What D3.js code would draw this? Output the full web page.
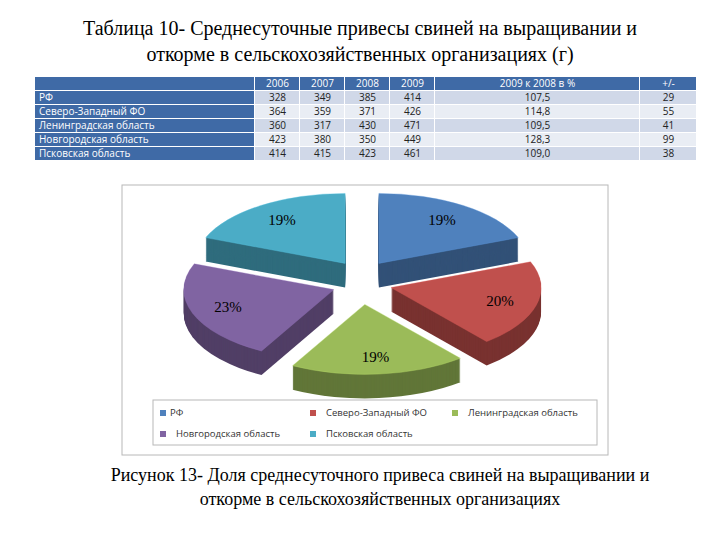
<!DOCTYPE html>
<html><head><meta charset="utf-8">
<script src="https://cdn.jsdelivr.net/npm/d3@7"></script>
<style>body{margin:0;background:#fff}</style>
</head><body>
<script>
var regions = ["РФ", "Северо-Западный ФО", "Ленинградская область", "Новгородская область", "Псковская область"];
var headers = ["2006", "2007", "2008", "2009", "2009 к 2008 в %", "+/-"];
var v2006 = [328, 364, 360, 423, 414];
var v2007 = [349, 359, 317, 380, 415];
var v2008 = [385, 371, 430, 350, 423];
var v2009 = [414, 426, 471, 449, 461];
var pct = ["107,5", "114,8", "109,5", "128,3", "109,0"];
var diff = [29, 55, 41, 99, 38];
var share = [19, 20, 19, 23, 19];
var colors = ["#4f81bd", "#c0504d", "#9bbb59", "#8064a2", "#4bacc6"];

var svg = d3.select("body").append("svg").attr("width", 720).attr("height", 540);
var serif = "'Liberation Serif','DejaVu Serif',serif";

svg.append("text").attr("x", 360).attr("y", 35).attr("text-anchor", "middle")
    .style("font-family", serif).style("font-size", "20px")
    .text("Таблица 10- Среднесуточные привесы свиней на выращивании и");
svg.append("text").attr("x", 360).attr("y", 61).attr("text-anchor", "middle")
    .style("font-family", serif).style("font-size", "20px")
    .text("откорме в сельскохозяйственных организациях (г)");

// table
var colX = [35, 255, 300, 345, 390, 435, 640, 697];
var rowY = [77, 91, 105, 119, 133, 147, 161];
var tbl = svg.append("g").style("font-family", "'Open Sans','DejaVu Sans',sans-serif").style("font-size", "10px");
for (var r = 0; r < 6; r++) {
    for (var c = 0; c < 7; c++) {
        var dark = r == 0 || c == 0;
        tbl.append("rect").attr("x", colX[c]).attr("y", rowY[r])
            .attr("width", colX[c + 1] - colX[c] - 1).attr("height", rowY[r + 1] - rowY[r] - 1)
            .attr("fill", dark ? "#3f6aa6" : (r % 2 ? "#d0d8e8" : "#e9edf4"));
        var t = "";
        if (r == 0) t = c == 0 ? "" : headers[c - 1];
        else {
            var i = r - 1;
            t = [regions[i], v2006[i], v2007[i], v2008[i], v2009[i], pct[i], diff[i]][c];
        }
        tbl.append("text").attr("x", c == 0 ? colX[c] + 4 : (colX[c] + colX[c + 1]) / 2)
            .attr("y", rowY[r] + 10).attr("text-anchor", c == 0 ? "start" : "middle")
            .attr("fill", dark ? "#fff" : "#222").text(t);
    }
}

// chart frame
svg.append("rect").attr("x", 122).attr("y", 185).attr("width", 486).attr("height", 270)
    .attr("fill", "#fff").attr("stroke", "#b8b8b8");

var cx = 362, cy = 282, rx = 150, ry = 70, depth = 24, explode = 30;
var pie = d3.pie().sort(null)(share);
var arc = d3.arc().innerRadius(0).outerRadius(rx);
var k = ry / rx;

// back slices first
var order = pie.slice().sort(function (a, b) {
    return -Math.cos((a.startAngle + a.endAngle) / 2) + Math.cos((b.startAngle + b.endAngle) / 2);
});
var pg = svg.append("g");
order.forEach(function (d) {
    var m = (d.startAngle + d.endAngle) / 2;
    var ox = cx + explode * Math.sin(m), oy = cy - explode * 0.75 * Math.cos(m);
    var col = colors[d.index];
    var g = pg.append("g");
    for (var z = depth; z > 0; z--) {
        g.append("path").attr("d", arc(d))
            .attr("transform", "translate(" + ox + "," + (oy + z) + ") scale(1," + k + ")")
            .attr("fill", d3.color(col).darker(1.3));
    }
    g.append("path").attr("d", arc(d))
        .attr("transform", "translate(" + ox + "," + oy + ") scale(1," + k + ")")
        .attr("fill", col).attr("stroke", d3.color(col).brighter(0.4)).attr("stroke-width", 0.5);
    var lr = 0.75 * rx;
    g.append("text").attr("x", ox + lr * Math.sin(m)).attr("y", oy - lr * k * Math.cos(m) + 5)
        .attr("text-anchor", "middle").style("font-family", serif).style("font-size", "15px")
        .text(share[d.index] + "%");
});

// legend
svg.append("rect").attr("x", 153).attr("y", 400).attr("width", 444).attr("height", 45)
    .attr("fill", "#fff").attr("stroke", "#b8b8b8");
var legPos = [[160, 416], [310, 416], [452, 416], [160, 437], [310, 437]];
regions.forEach(function (n, i) {
    var lg = svg.append("g").attr("transform", "translate(" + legPos[i][0] + "," + legPos[i][1] + ")");
    lg.append("rect").attr("x", 0).attr("y", -6).attr("width", 6).attr("height", 6).attr("fill", colors[i]);
    lg.append("text").attr("x", i == 0 ? 10 : 16).attr("y", 0).style("font-family", "'Open Sans','DejaVu Sans',sans-serif")
        .style("font-size", "9.5px").attr("fill", "#333").text(n);
});

svg.append("text").attr("x", 380).attr("y", 481).attr("text-anchor", "middle")
    .style("font-family", serif).style("font-size", "18px")
    .text("Рисунок 13- Доля среднесуточного привеса свиней на выращивании и");
svg.append("text").attr("x", 380).attr("y", 505).attr("text-anchor", "middle")
    .style("font-family", serif).style("font-size", "18px")
    .text("откорме в сельскохозяйственных организациях");
</script>
</body></html>
